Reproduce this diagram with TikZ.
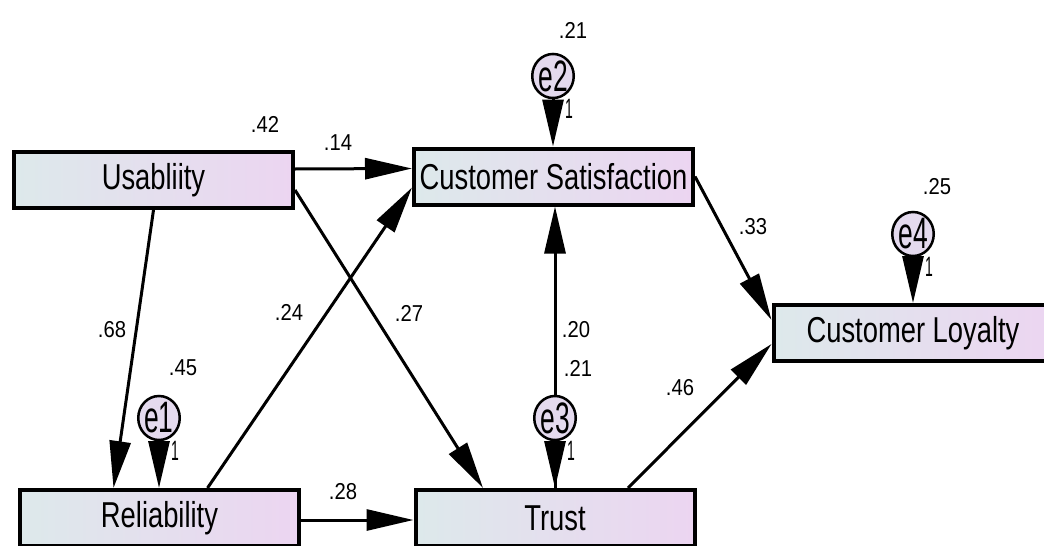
\documentclass[tikz,border=0pt]{standalone}
\usepackage{graphicx}
\usepackage{fontspec}
\setmainfont{Liberation Sans}
\usetikzlibrary{arrows.meta,shapes.geometric}
\definecolor{cL}{RGB}{221,233,235}
\definecolor{cR}{RGB}{236,213,241}
\definecolor{eFill}{RGB}{228,218,238}
\newcommand{\btxt}[1]{\fontsize{36}{40}\selectfont\scalebox{0.76}[1]{#1}}
\newcommand{\etxt}[1]{\fontsize{44}{46}\selectfont\scalebox{0.6}[1]{#1}}
\newcommand{\otxt}[1]{\fontsize{28}{30}\selectfont\scalebox{0.5}[1]{#1}}
\newcommand{\ntxt}[1]{\fontsize{23}{25}\selectfont\scalebox{0.88}[1]{#1}}
\tikzset{
  var/.style={rectangle, draw=black, line width=4pt, left color=cL, right color=cR,
    minimum width=279pt, minimum height=56pt, inner sep=0pt, text=black},
  err/.style={ellipse, draw=black, line width=2.5pt, fill=eFill,
    minimum width=31pt, minimum height=44pt, inner sep=0pt},
  path/.style={line width=3pt, -{Triangle[length=47pt,width=21pt]}},
  num/.style={inner sep=0pt, text=black},
}
\begin{document}
\begin{tikzpicture}[x=1pt,y=-1pt]
\useasboundingbox (0,0) rectangle (1044,546);
\clip (0,0) rectangle (1044,546);
% boxes
\node[var] (U)  at (153.5,180)   {\btxt{Usabliity}};
\node[var] (CS) at (553.5,176.5) {\btxt{Customer Satisfaction}};
\node[var] (R)  at (159.5,518)   {\btxt{Reliability}};
\node[var] (T)  at (555,518)     {\btxt{Trust}};
\node[var] (CL) at (913,333)     {\btxt{Customer Loyalty}};
% paths
\draw[path] ([yshift=11pt]U.east) -- ([yshift=8pt]CS.west);
\draw[path] ([yshift=-10pt]U.east) -- ([xshift=-72pt]T.north);
\draw[path] (U.south) -- ([xshift=-46pt]R.north);
\draw[path] ([xshift=48pt]R.north) -- ([yshift=-11pt]CS.west);
\draw[path] ([yshift=-2pt]R.east) -- ([yshift=-2pt]T.west);
\draw[path] (T.north) -- (T.north |- CS.south);
\draw[path] (CS.east) -- ([yshift=13pt]CL.west);
\draw[path] ([xshift=73pt]T.north) -- ([yshift=-11pt]CL.west);
% error terms
\node[err] (e1) at (159,418) {\etxt{e1}};
\node[err] (e2) at (553,76)  {\etxt{e2}};
\node[err] (e3) at (555,418) {\etxt{e3}};
\node[err] (e4) at (913,234) {\etxt{e4}};
\draw[path] (e1.south) -- (e1.south |- R.north);
\draw[path] (e2.south) -- (e2.south |- CS.north);
\draw[path] (e3.south) -- (e3.south |- T.north);
\draw[path] (e4.south) -- (e4.south |- CL.north);
\node[num] (o1) at ([shift={(16,33)}]e1.center) {\otxt{1}};
\node[num] (o2) at ([shift={(16,33)}]e2.center) {\otxt{1}};
\node[num] (o3) at ([shift={(16,33)}]e3.center) {\otxt{1}};
\node[num] (o4) at ([shift={(16,33)}]e4.center) {\otxt{1}};
% numbers
\node[num] (n42) at (265,124) {\ntxt{.42}};
\node[num] (n14) at (338,143) {\ntxt{.14}};
\node[num] (n21a) at (573,30) {\ntxt{.21}};
\node[num] (n25) at (937,187) {\ntxt{.25}};
\node[num] (n33) at (753,227) {\ntxt{.33}};
\node[num] (n68) at (112,330) {\ntxt{.68}};
\node[num] (n45) at (183,368) {\ntxt{.45}};
\node[num] (n24) at (289,312) {\ntxt{.24}};
\node[num] (n27) at (409,313) {\ntxt{.27}};
\node[num] (n20) at (576,330) {\ntxt{.20}};
\node[num] (n21b) at (578,368) {\ntxt{.21}};
\node[num] (n46) at (680,388) {\ntxt{.46}};
\node[num] (n28) at (343,492) {\ntxt{.28}};
\end{tikzpicture}
\end{document}
